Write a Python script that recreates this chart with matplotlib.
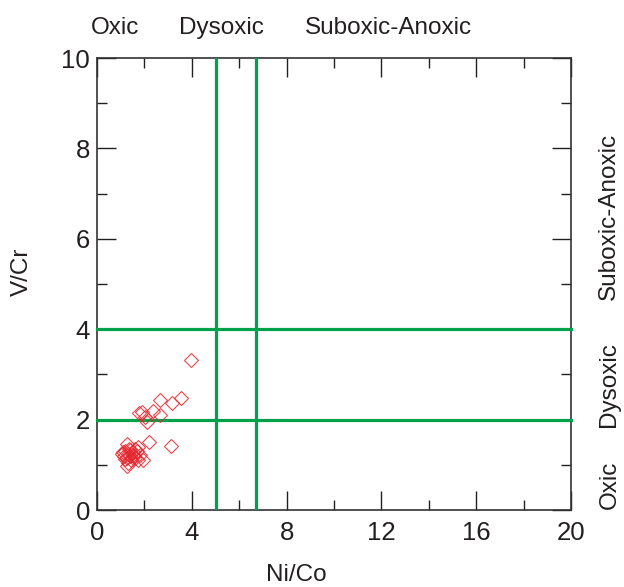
import matplotlib
matplotlib.use("Agg")
import matplotlib.pyplot as plt
from matplotlib.ticker import MultipleLocator

plt.rcParams["font.family"] = ["Liberation Sans", "DejaVu Sans"]

# Ni/Co and V/Cr ratios
ni_co = [3.97, 3.53, 3.18, 2.67, 2.38, 2.65, 1.89, 1.77, 2.03, 2.10,
         2.21, 3.11, 1.25, 1.74, 1.27, 1.95,
         1.05, 1.15, 1.20, 1.25, 1.30, 1.35, 1.40, 1.45, 1.50, 1.55,
         1.60, 1.70, 1.80, 1.30, 1.40, 1.60, 1.20, 1.75, 1.10, 1.50]
v_cr = [3.32, 2.47, 2.37, 2.43, 2.20, 2.10, 2.17, 2.15, 2.05, 1.95,
        1.50, 1.42, 1.46, 1.40, 0.97, 1.10,
        1.25, 1.20, 1.30, 1.15, 1.25, 1.35, 1.20, 1.10, 1.28, 1.20,
        1.15, 1.30, 1.22, 1.05, 1.32, 1.35, 1.12, 1.10, 1.28, 1.22]

ni_co_limits = [5.0, 6.7]
v_cr_limits = [2.0, 4.0]

top_labels = ["Oxic", "Dysoxic", "Suboxic-Anoxic"]
top_pos = [0.78, 5.27, 12.3]
right_labels = ["Oxic", "Dysoxic", "Suboxic-Anoxic"]
right_pos = [0.55, 2.77, 6.5]

ink = "#231f20"
green = "#00a14b"
red = "#e5262e"

fig = plt.figure(figsize=(6.24, 5.87), dpi=100)
ax = fig.add_axes([97 / 624, 1 - 510 / 587, 474 / 624, 452 / 587])

for x in ni_co_limits:
    ax.axvline(x, color=green, lw=2.3, zorder=3)
for y in v_cr_limits:
    ax.axhline(y, color=green, lw=2.3, zorder=3, clip_on=False)

ax.plot(ni_co, v_cr, ls="none", marker="D", ms=7, mfc="none",
        mec=red, mew=0.8, alpha=0.85, zorder=4)

ax.set_xlim(0, 20)
ax.set_ylim(0, 10)
ax.xaxis.set_major_locator(MultipleLocator(4))
ax.xaxis.set_minor_locator(MultipleLocator(2))
ax.yaxis.set_major_locator(MultipleLocator(2))
ax.yaxis.set_minor_locator(MultipleLocator(1))
ax.tick_params(which="both", direction="in", top=True, right=True,
               color=ink, width=1.0, labelsize=18.5, labelcolor=ink)
ax.tick_params(which="major", length=13.5)
ax.tick_params(which="minor", length=7)
ax.tick_params(axis="x", pad=8)
ax.tick_params(axis="y", pad=5)
for s in ax.spines.values():
    s.set_color("#333333")
    s.set_linewidth(1.2)

ax.set_xlabel("Ni/Co", fontsize=17.5, color=ink)
ax.set_ylabel("V/Cr", fontsize=17.5, color=ink)
ax.xaxis.set_label_coords(0.42, -0.144)
ax.xaxis.label.set_va("center")
ax.yaxis.set_label_coords(-0.158, 0.527)
ax.yaxis.label.set_va("center")

for t, x in zip(top_labels, top_pos):
    ax.text(x, 1.066, t, transform=ax.get_xaxis_transform(), ha="center",
            va="center", fontsize=17.5, color=ink)
for t, y in zip(right_labels, right_pos):
    ax.text(1.081, y, t, transform=ax.get_yaxis_transform(), ha="center",
            va="center", rotation=90, fontsize=17.5, color=ink)

fig.savefig("out.png", dpi=100)
